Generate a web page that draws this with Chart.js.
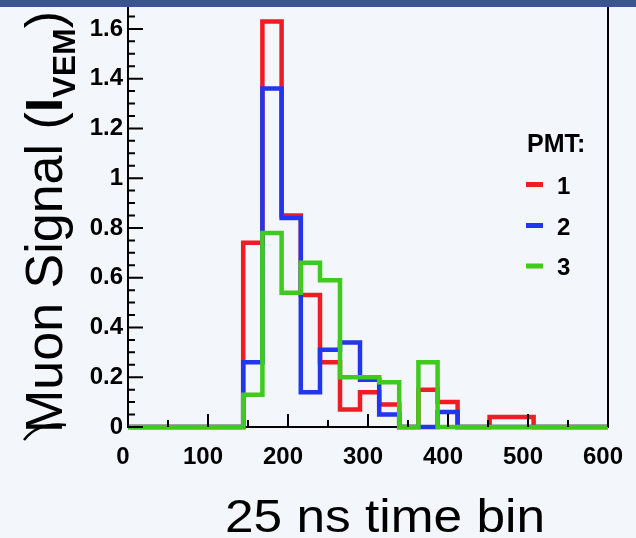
<!DOCTYPE html>
<html>
<head>
<meta charset="utf-8">
<script src="https://cdn.jsdelivr.net/npm/chart.js@4.4.0/dist/chart.umd.min.js"></script>
<style>
  body { margin: 0; background: #f3f6fa; }
  canvas { display: block; }
</style>
</head>
<body>
<canvas id="chart" width="636" height="538"></canvas>
<script>
// bin edges of the time histogram (25 ns bins)
const binEdges = [0, 144, 168, 192, 216, 240, 265, 290, 314, 339, 363, 387, 412, 452, 507, 600];
// signal per bin for each PMT
const pmt1 = [0, 0.74, 1.63, 0.85, 0.53, 0.26, 0.07, 0.14, 0.09, 0, 0.15, 0.10, 0, 0.04, 0];
const pmt2 = [0, 0.26, 1.36, 0.84, 0.14, 0.31, 0.34, 0.19, 0.05, 0, 0, 0.06, 0, 0, 0];
const pmt3 = [0, 0.13, 0.78, 0.54, 0.66, 0.59, 0.20, 0.20, 0.18, 0, 0.26, 0, 0, 0, 0];
const xTicks = [0, 100, 200, 300, 400, 500, 600];
const pmtNames = ['1', '2', '3'];
const pmtColors = ['#ee1c24', '#2236ee', '#3ecb1e'];

const FONT = "'Liberation Sans', Arial, sans-serif";

//turns bin values into points for a stepped line
function histPoints(values) {
    const pts = values.map((v, i) => ({x: binEdges[i], y: v}));
    pts.push({x: binEdges[binEdges.length - 1], y: values[values.length - 1]});
    return pts;
}

//axis sizes are fixed so the frame lands where it is in the picture
function noPad(s) {
    s.paddingLeft = 0;
    s.paddingRight = 0;
    s.paddingTop = 0;
    s.paddingBottom = 0;
}

const framePlugin = {
    id: 'frame',
    beforeDraw(chart) {
        const ctx = chart.ctx;
        ctx.save();
        ctx.fillStyle = '#f3f6fa';
        ctx.fillRect(0, 0, chart.width, chart.height);
        ctx.restore();
    },
    afterDatasetsDraw(chart) {
        const ctx = chart.ctx;
        const a = chart.chartArea;
        const xs = chart.scales.x, ys = chart.scales.y;
        ctx.save();
        ctx.strokeStyle = '#000';
        ctx.lineWidth = 2;
        ctx.beginPath();
        // y ticks, inside the frame
        for (let k = 0; k <= 34; k++) {
            const py = ys.getPixelForValue(k * 0.05);
            const len = k % 4 === 0 ? 15 : 7;
            ctx.moveTo(a.left, py);
            ctx.lineTo(a.left + len, py);
        }
        // x ticks
        for (let k = 0; k <= 12; k++) {
            const px = xs.getPixelForValue(k * 50);
            const len = k % 2 === 0 ? 13 : 7;
            ctx.moveTo(px, a.bottom);
            ctx.lineTo(px, a.bottom - len);
        }
        // right side of the frame
        ctx.moveTo(a.right, a.top);
        ctx.lineTo(a.right, a.bottom);
        ctx.stroke();

        // little stray arc near the origin
        ctx.lineWidth = 2.5;
        ctx.beginPath();
        ctx.moveTo(24, 440);
        ctx.quadraticCurveTo(38, 422, 66, 425);
        ctx.stroke();
        ctx.restore();
    },
    afterDraw(chart) {
        const ctx = chart.ctx;
        ctx.save();
        ctx.fillStyle = '#000';

        // legend
        ctx.font = 'bold 25px ' + FONT;
        ctx.textBaseline = 'alphabetic';
        ctx.textAlign = 'left';
        ctx.fillText('PMT:', 527, 152);
        const rows = [184.5, 225.5, 266];
        ctx.font = 'bold 24px ' + FONT;
        pmtNames.forEach((name, i) => {
            ctx.fillStyle = pmtColors[i];
            ctx.fillRect(526, rows[i] - 2.5, 17, 5);
            ctx.fillStyle = '#000';
            ctx.fillText(name, 557, rows[i] + 9);
        });

        // x title
        ctx.font = '46px ' + FONT;
        const xt = '25 ns time bin';
        const w = ctx.measureText(xt).width;
        ctx.translate(385, 532);
        ctx.scale(320 / w, 1);
        ctx.textAlign = 'center';
        ctx.fillText(xt, 0, 0);
        ctx.setTransform(1, 0, 0, 1, 0, 0);

        // y title, rotated
        ctx.translate(62, 433);
        ctx.rotate(-Math.PI / 2);
        ctx.textAlign = 'left';
        let pos = 0;
        ctx.font = '52px ' + FONT;
        ctx.fillText('Muon Signal (', pos, 0);
        pos += ctx.measureText('Muon Signal (').width;
        ctx.font = 'bold 52px ' + FONT;
        ctx.fillText('I', pos, 0);
        pos += ctx.measureText('I').width;
        ctx.font = 'bold 32px ' + FONT;
        ctx.fillText('VEM', pos, 13);
        pos += ctx.measureText('VEM').width;
        ctx.font = '52px ' + FONT;
        ctx.fillText(')', pos, 0);
        ctx.setTransform(1, 0, 0, 1, 0, 0);

        // slide header band
        ctx.fillStyle = '#3b5592';
        ctx.fillRect(0, 0, chart.width, 7);
        ctx.restore();
    }
};

const config = {
    type: 'line',
    data: {
        datasets: [
            {label: pmtNames[0], data: histPoints(pmt1), borderColor: pmtColors[0], order: 3},
            {label: pmtNames[1], data: histPoints(pmt2), borderColor: pmtColors[1], order: 2},
            {label: pmtNames[2], data: histPoints(pmt3), borderColor: pmtColors[2], order: 1}
        ].map(d => ({...d, stepped: 'before', borderWidth: 4.5, pointRadius: 0,
            fill: false, clip: false, borderJoinStyle: 'miter', borderCapStyle: 'butt'}))
    },
    options: {
        responsive: false,
        animation: false,
        devicePixelRatio: 1,
        layout: {padding: {top: 4, right: 28, left: 0, bottom: 0}},
        plugins: {legend: {display: false}, tooltip: {enabled: false}},
        scales: {
            x: {
                type: 'linear', min: 0, max: 600,
                afterFit: s => { s.height = 111; noPad(s); },
                afterBuildTicks: s => { s.ticks = xTicks.map(v => ({value: v})); },
                grid: {display: false, drawTicks: false},
                border: {display: true, color: '#000', width: 2},
                ticks: {color: '#000', font: {family: FONT, size: 24, weight: 'bold'},
                    padding: 16, labelOffset: -5, maxRotation: 0, autoSkip: false}
            },
            y: {
                type: 'linear', min: 0, max: 1.7,
                afterFit: s => { s.width = 128; noPad(s); },
                grid: {display: false, drawTicks: false},
                border: {display: true, color: '#000', width: 2},
                ticks: {stepSize: 0.2, includeBounds: false, color: '#000',
                    font: {family: FONT, size: 24, weight: 'bold'}, padding: 5,
                    callback: v => (Math.round(v * 10) / 10).toString()}
            }
        }
    },
    plugins: [framePlugin]
};

const myChart = new Chart(document.getElementById('chart'), config);
</script>
</body>
</html>
